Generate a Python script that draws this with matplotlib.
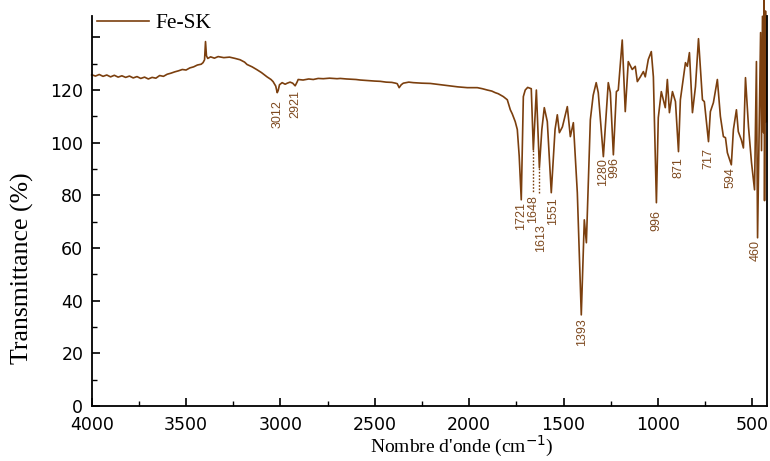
import matplotlib
matplotlib.use("Agg")
import matplotlib.pyplot as plt
from matplotlib.ticker import MultipleLocator, FixedLocator

# ---------------- data ----------------
wavenumber = [
    4000, 3980, 3960, 3940, 3920, 3900, 3880, 3860, 3840, 3820, 3800, 3780, 3760, 3740,
    3720, 3700, 3680, 3660, 3640, 3620, 3600, 3580, 3560, 3540, 3520, 3500, 3480, 3460,
    3440, 3420, 3410, 3402, 3397, 3392, 3385, 3370, 3350, 3330, 3300, 3270, 3240, 3214,
    3190, 3177, 3150, 3124, 3100, 3071, 3050, 3039, 3025, 3017, 3012, 3005, 2991, 2975,
    2964, 2949, 2935, 2922, 2912, 2906, 2880, 2850, 2826, 2800, 2773, 2740, 2700, 2683,
    2650, 2600, 2577, 2540, 2500, 2471, 2440, 2410, 2390, 2381, 2371, 2360, 2349, 2320,
    2296, 2250, 2206, 2160, 2116, 2060, 2010, 1957, 1930, 1904, 1880, 1862, 1846, 1819,
    1798, 1782, 1772, 1756, 1745, 1735, 1724, 1713, 1703, 1690, 1671, 1660, 1644, 1628,
    1615, 1602, 1586, 1565, 1545, 1533, 1522, 1506, 1480, 1464, 1448, 1427, 1406, 1390,
    1379, 1358, 1343, 1327, 1316, 1289, 1263, 1252, 1236, 1220, 1210, 1189, 1173, 1157,
    1136, 1120, 1109, 1093, 1077, 1067, 1051, 1035, 1024, 1008, 998, 982, 961, 950,
    939, 923, 907, 891, 881, 854, 844, 833, 817, 801, 785, 764, 754, 732,
    722, 706, 685, 669, 653, 642, 632, 611, 600, 584, 574, 558, 547, 536,
    520, 504, 488, 478, 472, 456, 451, 446, 440, 438, 435, 430, 425,
]
transmittance = [
    125.8, 125.3, 125.9, 125.2, 125.7, 125.0, 125.6, 124.9, 125.4, 124.8, 125.3, 124.6, 125.1, 124.4,
    124.9, 124.2, 124.8, 124.5, 125.5, 125.2, 126.0, 126.4, 126.9, 127.3, 127.8, 127.6, 128.4, 128.8,
    129.5, 129.8, 130.4, 131.5, 138.4, 133.0, 132.0, 132.6, 132.1, 132.7, 132.3, 132.5, 132.0, 131.5,
    130.6, 129.7, 128.8, 127.7, 126.6, 125.0, 124.0, 123.2, 121.5, 119.0, 119.8, 122.0, 122.8, 122.2,
    122.6, 123.0, 122.6, 121.6, 123.0, 124.0, 123.8, 124.2, 124.0, 124.4, 124.3, 124.5, 124.3, 124.4,
    124.2, 124.0, 123.8, 123.6, 123.4, 123.3, 123.0, 122.9, 122.6, 122.4, 120.9, 122.0, 122.6, 123.0,
    122.8, 122.6, 122.5, 122.1, 121.7, 121.2, 120.9, 120.9, 120.5, 120.0, 119.6, 119.0, 118.6, 117.5,
    116.3, 112.5, 111.0, 108.0, 105.0, 95.0, 78.3, 117.5, 120.0, 121.0, 120.5, 97.3, 120.0, 90.5,
    105.0, 113.3, 108.0, 81.0, 105.0, 110.6, 103.8, 106.0, 113.7, 102.3, 107.6, 81.0, 34.6, 70.7,
    62.0, 108.7, 118.0, 122.8, 119.0, 94.7, 122.8, 119.0, 95.4, 119.4, 120.0, 139.0, 111.8, 130.8,
    127.8, 129.0, 123.2, 125.0, 127.0, 125.0, 131.6, 134.6, 125.0, 77.2, 109.5, 119.4, 113.3, 124.0,
    111.4, 119.4, 115.6, 96.6, 116.3, 130.4, 129.0, 134.2, 111.4, 121.3, 139.5, 116.3, 115.6, 100.4,
    111.8, 115.2, 124.0, 110.0, 102.3, 101.9, 96.2, 91.6, 105.0, 112.5, 104.2, 101.1, 98.0, 124.7,
    106.0, 92.4, 82.1, 130.8, 63.9, 141.8, 97.0, 148.0, 103.8, 154.0, 78.0, 150.0, 108.0,
]

peak_labels = ["3012", "2921", "1721", "1648", "1613", "1551", "1393",
               "1280", "996", "996", "871", "717", "594", "460"]
peak_pos = [3017, 2922, 1724, 1662, 1619, 1557, 1403,
            1289, 1233, 1008, 891, 732, 614, 483]
peak_text_top = [116.2, 120.0, 77.5, 80.2, 69.0, 79.4, 33.4,
                 94.2, 94.6, 74.4, 94.6, 98.0, 90.8, 63.0]

# dotted leader lines
leader_pos = [1660, 1628]
leader_top = [97.3, 90.5]
leader_bottom = [81.0, 81.0]

series_name = "Fe-SK"
x_ticks = [4000, 3500, 3000, 2500, 2000, 1500, 1000, 500]
y_ticks = [0, 20, 40, 60, 80, 100, 120, 140]
y_tick_labels = ["0", "20", "40", "60", "80", "100", "120", ""]

# ---------------- styling ----------------
line_color = "#7B3F0E"
text_brown = "#7E4A20"
W, H = 770, 461
fig = plt.figure(figsize=(W / 100, H / 100), dpi=100)
L, R, B, T = 91.7, 767.0, 406.0, 16.3
ax = fig.add_axes([L / W, 1 - B / H, (R - L) / W, (B - T) / H])

ax.plot(wavenumber, transmittance, color=line_color, lw=1.2, clip_on=False,
        label=series_name)

ax.set_xlim(4000, 422)
ax.set_ylim(0, 148)

for lab, xp, yt in zip(peak_labels, peak_pos, peak_text_top):
    ax.text(xp, yt, lab, rotation=90, ha="center", va="top",
            fontsize=9.0, family="Liberation Sans", color=text_brown)

for xp, yt, yb in zip(leader_pos, leader_top, leader_bottom):
    ax.plot([xp, xp], [yt, yb], ls=(0, (1.2, 1.2)), color=line_color, lw=1.0)

ax.xaxis.set_major_locator(FixedLocator(x_ticks))
ax.xaxis.set_minor_locator(MultipleLocator(250))
ax.yaxis.set_major_locator(FixedLocator(y_ticks))
ax.yaxis.set_minor_locator(MultipleLocator(10))
ax.set_yticklabels(y_tick_labels)
ax.set_xticklabels([str(v) for v in x_ticks])

ax.tick_params(which="major", direction="in", length=6, width=1.2, labelsize=12.5)
ax.tick_params(axis="x", which="major", pad=7)
ax.tick_params(axis="y", which="major", pad=6)
ax.tick_params(which="minor", direction="in", length=3.5, width=1.0)
ax.tick_params(axis="y", which="both", right=False)
ax.tick_params(axis="x", which="both", top=False)
for lab in ax.get_xticklabels() + ax.get_yticklabels():
    lab.set_family("DejaVu Sans")

ax.spines["top"].set_visible(False)
for s in ("left", "bottom", "right"):
    ax.spines[s].set_linewidth(1.3)

fig.text(462 / W, 1 - 446 / H, "Nombre d'onde (cm$^{-1}$)", ha="center", va="center",
         fontsize=14, family="Liberation Serif")
fig.text(22 / W, 1 - 268 / H, "Transmittance (%)", rotation=90, ha="center",
         va="center", fontsize=18.5, family="Liberation Serif")

leg = ax.legend(loc="upper left", bbox_to_anchor=((97 - L) / (R - L), (B - 13) / (B - T)),
                frameon=False, handlelength=2.4, handletextpad=0.3, borderpad=0,
                borderaxespad=0, prop={"family": "Liberation Serif", "size": 15.5})
for h in leg.get_lines():
    h.set_linewidth(1.2)

fig.savefig("out.png", dpi=100)
